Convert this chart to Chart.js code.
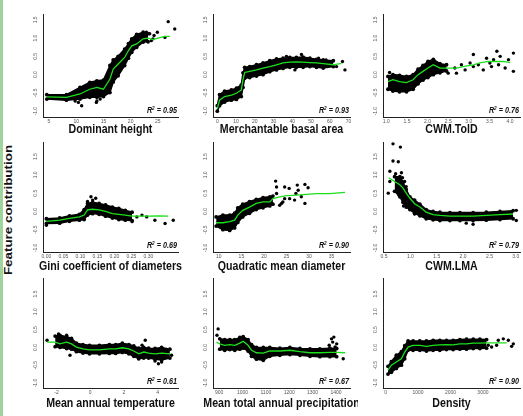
<!DOCTYPE html>
<html>
<head>
<meta charset="utf-8">
<script src="https://cdn.jsdelivr.net/npm/chart.js@4.4.1/dist/chart.umd.min.js"></script>
<style>
  html, body { margin: 0; padding: 0; background: #fff; width: 523px; height: 416px; overflow: hidden; }
  canvas { position: absolute; }
  #edge { position: absolute; left: 0; top: 0; width: 3px; height: 416px; background: #9fd49f; }
  #ylab {
    position: absolute; left: 8px; top: 210px; white-space: nowrap;
    font: bold 13.4px Arial, "Liberation Sans", sans-serif; color: #111;
    transform: translate(-50%, -50%) rotate(-90deg) scaleY(0.85);
  }
</style>
</head>
<body>
<div id="edge"></div>
<div id="ylab">Feature contribution</div>
<script>
// Shared y ticks (feature contribution)
const yTicks = [-1.0, -0.5, 0.0, 0.5, 1.0, 1.5];

// Dominant height
const heightTicks = [5, 10, 15, 20, 25];
const heightX   = [4.6, 8.2, 10.7, 12.5, 13.8, 15.0, 16.2, 16.8, 17.7, 18.9, 19.6, 20.2, 21.1, 22.3, 23.2, 24.1, 25.0, 26.3, 27.2];
const heightMid = [-0.61, -0.62, -0.53, -0.40, -0.35, -0.40, -0.12, 0.15, 0.29, 0.47, 0.66, 0.79, 0.84, 0.98, 1.00, 0.96, 1.00, 1.05, 1.05];
const heightHi  = [-0.55, -0.55, -0.35, -0.21, -0.17, -0.15, 0.25, 0.40, 0.50, 0.70, 0.85, 0.98, 1.10, 1.16, 1.12, null, null, null, null];
const heightLo  = [-0.67, -0.70, -0.67, -0.62, -0.62, -0.60, -0.49, -0.20, -0.03, 0.25, 0.45, 0.61, 0.75, 0.89, 0.90, null, null, null, null];
const heightOut = [[26.9, 1.45], [28.1, 1.25], [13.8, -0.72], [11.0, -0.85], [14.4, -0.67], [13.7, -0.76], [23.5, 1.12], [24.3, 1.07],
                   [24.9, 1.16], [24.1, 0.98], [26.3, 1.02], [22.9, 1.16], [23.8, 0.93], [9.8, -0.72], [10.4, -0.76]];

// Merchantable basal area
const basalTicks = [0, 10, 20, 30, 40, 50, 60, 70];
const basalX   = [0, 1.2, 3.9, 7.5, 10.2, 12.8, 13.7, 14.6, 17.3, 20.9, 24.4, 28.0, 31.6, 35.1, 38.7, 42.2, 45.8, 49.4, 52.9, 56.5, 61.9, 66.3];
const basalMid = [-0.93, -0.70, -0.60, -0.56, -0.51, -0.42, -0.14, 0.06, 0.09, 0.13, 0.18, 0.22, 0.27, 0.32, 0.34, 0.35, 0.34, 0.33, 0.32, 0.30, 0.27, 0.31];
const basalHi  = [-0.85, -0.55, -0.45, -0.42, -0.37, -0.28, 0.05, 0.20, 0.22, 0.27, 0.32, 0.38, 0.43, 0.45, 0.47, 0.47, 0.48, 0.45, 0.42, 0.40, 0.38, null];
const basalLo  = [-1.00, -0.85, -0.75, -0.70, -0.68, -0.60, -0.35, -0.10, -0.08, -0.04, 0.00, 0.08, 0.13, 0.17, 0.20, 0.20, 0.20, 0.22, 0.20, 0.18, 0.22, null];
const basalOut = [[68.1, 0.13], [66.8, 0.36], [41.4, 0.13], [63.6, 0.22], [60.1, 0.32], [44.9, 0.55], [36.9, 0.50], [58.0, 0.40], [54.0, 0.45]];

// CWM.TolD
const toldTicks = [1.0, 1.5, 2.0, 2.5, 3.0, 3.5, 4.0];
const toldX   = [1.04, 1.16, 1.32, 1.49, 1.65, 1.77, 1.89, 2.01, 2.14, 2.30, 2.46, 2.70, 2.95, 3.11, 3.27, 3.47, 3.68, 3.84, 4.00];
const toldMid = [-0.19, -0.14, -0.19, -0.22, -0.14, 0.00, 0.09, 0.18, 0.27, 0.18, 0.18, 0.18, 0.24, 0.27, 0.32, 0.36, 0.36, 0.36, 0.33];
const toldHi  = [-0.05, 0.00, -0.02, -0.05, 0.00, 0.15, 0.25, 0.36, 0.42, 0.30, 0.27, null, null, null, null, null, null, null, null];
const toldLo  = [-0.40, -0.45, -0.47, -0.47, -0.40, -0.25, -0.15, -0.08, 0.00, 0.05, 0.10, null, null, null, null, null, null, null, null];
const toldOut = [[3.11, 0.55], [3.68, 0.64], [4.08, 0.59], [3.88, 0.18], [4.08, 0.09], [2.70, 0.04], [3.35, 0.13], [3.55, 0.22],
                 [3.72, 0.27], [3.03, 0.32], [3.43, 0.45], [2.82, 0.27], [2.34, 0.09], [2.50, 0.04], [3.23, 0.27], [3.96, 0.41],
                 [3.76, 0.50], [3.51, 0.32], [1.08, 0.06], [2.66, 0.18], [2.91, 0.13], [3.60, 0.41], [3.11, 0.22]];

// Gini coefficient of diameters
const giniTicks = [0.00, 0.05, 0.10, 0.15, 0.20, 0.25, 0.30];
const giniX   = [0.000, 0.039, 0.068, 0.097, 0.111, 0.121, 0.136, 0.155, 0.174, 0.194, 0.213, 0.232, 0.252, 0.271, 0.300, 0.329, 0.358];
const giniMid = [-0.27, -0.24, -0.19, -0.15, -0.10, 0.04, 0.06, 0.04, 0.00, -0.06, -0.08, -0.10, -0.13, -0.13, -0.13, -0.12, -0.13];
const giniHi  = [-0.20, -0.18, -0.12, -0.08, 0.05, 0.22, 0.25, 0.22, 0.18, 0.12, 0.08, 0.03, -0.02, null, null, null, null];
const giniLo  = [-0.33, -0.32, -0.27, -0.24, -0.22, -0.10, -0.06, -0.08, -0.13, -0.18, -0.22, -0.24, -0.25, null, null, null, null];
const giniOut = [[0.131, 0.40], [0.136, 0.31], [0.349, -0.33], [0.373, -0.24], [0.319, -0.24], [0.281, -0.10], [0.252, -0.28],
                 [0.266, -0.15], [0.000, -0.38], [0.145, 0.36], [0.121, 0.27], [0.295, -0.15]];

// Quadratic mean diameter
const qmdTicks = [10, 15, 20, 25, 30, 35];
const qmdX   = [9.4, 10.9, 12.4, 13.5, 14.2, 15.3, 16.8, 18.3, 19.8, 21.3, 22.0, 23.5, 25.0, 26.5, 28.7, 31.7, 34.6, 38.0];
const qmdMid = [-0.31, -0.31, -0.28, -0.24, -0.10, 0.03, 0.12, 0.22, 0.26, 0.26, 0.35, 0.40, 0.43, 0.44, 0.46, 0.49, 0.49, 0.52];
const qmdHi  = [-0.15, -0.10, -0.10, -0.05, 0.10, 0.20, 0.27, 0.33, 0.38, 0.40, 0.42, null, null, null, null, null, null, null];
const qmdLo  = [-0.40, -0.50, -0.52, -0.45, -0.30, -0.15, -0.05, 0.05, 0.10, 0.15, 0.20, null, null, null, null, null, null, null];
const qmdOut = [[22.6, 0.83], [22.8, 0.67], [24.6, 0.67], [25.6, 0.63], [27.4, 0.72], [27.6, 0.58], [27.1, 0.49], [29.1, 0.74],
                [29.8, 0.65], [28.3, 0.40], [26.8, 0.31], [24.6, 0.35], [23.5, 0.17], [29.1, 0.22], [25.7, 0.35], [24.2, 0.26],
                [22.8, 0.49], [23.9, 0.22]];

// CWM.LMA
const lmaTicks = [0.5, 1.0, 1.5, 2.0, 2.5, 3.0];
const lmaX   = [0.59, 0.70, 0.80, 0.86, 0.92, 0.99, 1.08, 1.18, 1.30, 1.43, 1.56, 1.75, 1.94, 2.19, 2.44, 2.70, 2.95];
const lmaMid = [0.92, 0.82, 0.73, 0.64, 0.50, 0.36, 0.21, 0.12, -0.02, -0.09, -0.11, -0.13, -0.13, -0.13, -0.11, -0.09, -0.07];
const lmaHi  = [null, 0.95, 0.95, 0.80, 0.60, 0.40, 0.31, 0.20, 0.05, 0.00, -0.02, -0.03, -0.03, -0.03, -0.02, 0.00, 0.02];
const lmaLo  = [null, 0.55, 0.40, 0.25, 0.12, 0.05, -0.05, -0.12, -0.20, -0.23, -0.25, -0.25, -0.25, -0.25, -0.24, -0.22, -0.20];
const lmaOut = [[0.67, 1.85], [0.81, 1.76], [0.67, 1.38], [0.77, 1.36], [0.58, 0.50], [0.61, 1.10], [0.72, 1.03], [0.83, 1.06],
                [0.85, 0.92], [0.89, 0.82], [0.86, 0.54], [0.92, 0.68], [0.78, 0.45], [0.87, 0.15], [0.96, 0.21], [3.01, -0.25],
                [2.19, -0.35], [2.06, -0.32], [3.01, 0.03], [0.61, 0.82], [1.08, -0.07]];

// Mean annual temperature
const matTicks = [-2, 0, 2, 4];
const matX   = [-2.56, -2.08, -1.79, -1.40, -1.11, -0.82, -0.43, -0.04, 0.54, 1.13, 1.51, 1.90, 2.29, 2.58, 2.87, 3.17, 3.46, 3.84, 4.23, 4.72];
const matMid = [0.15, 0.15, 0.10, 0.15, 0.10, 0.01, -0.04, -0.07, -0.07, -0.04, -0.04, -0.01, -0.04, -0.10, -0.18, -0.13, -0.16, -0.18, -0.16, -0.18];
const matHi  = [null, 0.32, 0.34, 0.30, 0.25, 0.12, 0.08, 0.06, 0.06, 0.08, 0.08, 0.12, 0.08, 0.04, -0.02, 0.00, -0.02, -0.03, 0.00, -0.05];
const matLo  = [null, 0.02, 0.00, -0.03, -0.05, -0.12, -0.16, -0.18, -0.18, -0.17, -0.17, -0.14, -0.18, -0.25, -0.32, -0.30, -0.30, -0.33, -0.35, -0.30];
const matOut = [[-2.56, 0.20], [-1.20, -0.22], [3.26, 0.20], [4.04, -0.46], [4.23, -0.41], [3.07, 0.06], [4.82, -0.22],
                [3.84, -0.38], [-1.88, 0.38], [-1.40, 0.34]];

// Mean total annual precipitation
const mapTicks = [900, 1000, 1100, 1200, 1300, 1400];
const mapX   = [889, 903, 924, 946, 967, 989, 1003, 1024, 1039, 1060, 1089, 1117, 1160, 1203, 1246, 1289, 1331, 1374, 1403, 1439];
const mapMid = [0.15, 0.10, 0.06, 0.08, 0.06, 0.12, 0.17, 0.06, -0.08, -0.15, -0.16, -0.10, -0.10, -0.08, -0.12, -0.15, -0.15, -0.14, -0.14, -0.15];
const mapHi  = [null, 0.24, 0.22, 0.22, 0.22, 0.28, 0.30, 0.22, 0.08, 0.00, 0.00, 0.00, -0.02, 0.00, -0.03, -0.04, -0.04, -0.02, -0.03, null];
const mapLo  = [null, -0.05, -0.08, -0.06, -0.08, -0.05, -0.02, -0.10, -0.25, -0.33, -0.36, -0.25, -0.22, -0.20, -0.22, -0.25, -0.26, -0.26, -0.26, null];
const mapOut = [[896, 0.52], [891, 0.34], [1381, 0.24], [1391, 0.29], [1386, 0.15], [1371, 0.06], [1396, 0.01], [1431, -0.32],
                [1017, 0.20], [1010, 0.24], [1403, 0.10]];

// Density
const densTicks = [0, 1000, 2000, 3000];
const densX   = [72, 175, 330, 485, 588, 691, 845, 1052, 1258, 1464, 1670, 1876, 2082, 2289, 2495, 2701, 2907, 3113, 3423, 3732];
const densMid = [-0.64, -0.50, -0.41, -0.32, -0.13, 0.01, 0.06, 0.06, 0.03, 0.06, 0.07, 0.08, 0.07, 0.10, 0.10, 0.12, 0.12, 0.13, 0.13, 0.13];
const densHi  = [-0.53, -0.40, -0.22, -0.12, 0.05, 0.18, 0.18, 0.18, 0.18, 0.20, 0.20, 0.20, 0.20, 0.22, 0.23, 0.23, 0.23, 0.22, null, null];
const densLo  = [-0.75, -0.70, -0.59, -0.50, -0.32, -0.08, -0.08, -0.08, -0.10, -0.08, -0.08, -0.06, -0.06, -0.05, -0.05, -0.03, -0.03, -0.02, null, null];
const densOut = [[3629, 0.24], [3784, 0.20], [3938, 0.10], [3887, 0.03], [3423, 0.06], [3268, 0.01], [3165, 0.06], [3474, 0.20]];

const titles = ['Dominant height', 'Merchantable basal area', 'CWM.TolD',
                'Gini coefficient of diameters', 'Quadratic mean diameter', 'CWM.LMA',
                'Mean annual temperature', 'Mean total annual precipitation', 'Density'];
const r2Values = [0.95, 0.93, 0.76, 0.69, 0.90, 0.79, 0.61, 0.67, 0.90];

// Panel layout: plot-area edges in page pixels
const colLeft = [43, 213, 383], colRight = [178, 350, 520];
const rowTop = [14, 142, 278], rowBottom = [117, 252, 388];
const rowRange = [[-1.16, 1.66], [-1.11, 1.90], [-1.14, 1.95]];
const titleGap = [13, 15, 16];

const panels = [
  { x: heightX, mid: heightMid, hi: heightHi, lo: heightLo, out: heightOut, ticks: heightTicks, xr: [3.9, 28.7], dec: 0 },
  { x: basalX, mid: basalMid, hi: basalHi, lo: basalLo, out: basalOut, ticks: basalTicks, xr: [-2.3, 70.8], dec: 0 },
  { x: toldX, mid: toldMid, hi: toldHi, lo: toldLo, out: toldOut, ticks: toldTicks, xr: [0.92, 4.24], dec: 1 },
  { x: giniX, mid: giniMid, hi: giniHi, lo: giniLo, out: giniOut, ticks: giniTicks, xr: [-0.01, 0.387], dec: 2 },
  { x: qmdX, mid: qmdMid, hi: qmdHi, lo: qmdLo, out: qmdOut, ticks: qmdTicks, xr: [8.7, 39.1], dec: 0 },
  { x: lmaX, mid: lmaMid, hi: lmaHi, lo: lmaLo, out: lmaOut, ticks: lmaTicks, xr: [0.48, 3.08], dec: 1 },
  { x: matX, mid: matMid, hi: matHi, lo: matLo, out: matOut, ticks: matTicks, xr: [-2.8, 5.2], dec: 0 },
  { x: mapX, mid: mapMid, hi: mapHi, lo: mapLo, out: mapOut, ticks: mapTicks, xr: [874, 1460], dec: 0 },
  { x: densX, mid: densMid, hi: densHi, lo: densLo, out: densOut, ticks: densTicks, xr: [-82, 4144], dec: 0 }
];

const FONT = 'Arial, "Liberation Sans", sans-serif';

// Draws the x-axis title under each panel and the R² note in its lower-right corner
const panelText = {
  id: 'panelText',
  afterDraw(chart, args, opts) {
    const { ctx, chartArea: a } = chart;
    ctx.save();
    ctx.fillStyle = '#111';
    ctx.translate((a.left + a.right) / 2, a.bottom + opts.gap);
    ctx.scale(0.85, 1);
    ctx.font = 'bold 12.5px ' + FONT;
    ctx.textAlign = 'center';
    ctx.textBaseline = 'middle';
    ctx.fillText(opts.title, 0, 0);
    ctx.restore();

    ctx.save();
    ctx.fillStyle = '#111';
    const big = 'italic bold 8.5px ' + FONT, small = 'italic bold 5.5px ' + FONT;
    const rest = ' = ' + opts.r2.toFixed(2);
    ctx.font = big;
    const wR = ctx.measureText('R').width, wRest = ctx.measureText(rest).width;
    ctx.font = small;
    const w2 = ctx.measureText('2').width;
    const total = (wR + w2 + wRest) * 0.85;
    ctx.translate(a.right - total - 1, a.bottom - 4);
    ctx.scale(0.85, 1);
    ctx.textAlign = 'left';
    ctx.textBaseline = 'alphabetic';
    ctx.font = big;  ctx.fillText('R', 0, 0);
    ctx.font = small; ctx.fillText('2', wR, -3.5);
    ctx.font = big;  ctx.fillText(rest, wR + w2, 0);
    ctx.restore();
  }
};

const PAD_TOP = 6, PAD_RIGHT = 8, PAD_BOTTOM = 22, Y_W = 18, X_H = 10;
const pts = (xs, ys) => xs.map((x, i) => ({ x: x, y: ys[i] }));

panels.forEach((p, i) => {
  const row = Math.floor(i / 3), col = i % 3;
  const L = colLeft[col], R = colRight[col], T = rowTop[row], B = rowBottom[row];
  const cv = document.createElement('canvas');
  cv.width = R - L + Y_W + PAD_RIGHT;
  cv.height = B - T + PAD_TOP + X_H + PAD_BOTTOM;
  cv.style.left = (L - Y_W) + 'px';
  cv.style.top = (T - PAD_TOP) + 'px';
  document.body.appendChild(cv);

  const edge = { borderColor: '#000', backgroundColor: '#000', borderWidth: 1.5, pointRadius: 1.9,
                 pointBackgroundColor: '#000', pointBorderWidth: 0, tension: 0 };

  new Chart(cv, {
    type: 'line',
    data: {
      datasets: [
        { data: pts(p.x, p.mid), borderColor: '#1be01b', borderWidth: 1.3, pointRadius: 0, fill: false, tension: 0 },
        { data: p.out.map(d => ({ x: d[0], y: d[1] })), showLine: false, pointRadius: 1.7,
          pointBackgroundColor: '#000', pointBorderWidth: 0, fill: false },
        Object.assign({ data: pts(p.x, p.hi), fill: '+1' }, edge),
        Object.assign({ data: pts(p.x, p.lo), fill: false }, edge)
      ]
    },
    plugins: [panelText],
    options: {
      responsive: false,
      animation: false,
      devicePixelRatio: 1,
      layout: { padding: { top: PAD_TOP, right: PAD_RIGHT, bottom: PAD_BOTTOM, left: 0 } },
      plugins: {
        legend: { display: false },
        tooltip: { enabled: false },
        panelText: { title: titles[i], r2: r2Values[i], gap: titleGap[row] }
      },
      scales: {
        x: {
          type: 'linear', min: p.xr[0], max: p.xr[1],
          afterBuildTicks: s => { s.ticks = p.ticks.map(v => ({ value: v })); },
          afterFit: s => { s.height = X_H; },
          grid: { drawOnChartArea: false, drawTicks: false },
          border: { display: true, color: '#222', width: 1 },
          ticks: { font: { size: 5, family: FONT }, color: '#555', padding: 2, maxRotation: 0,
                   callback: v => v.toFixed(p.dec) }
        },
        y: {
          type: 'linear', min: rowRange[row][0], max: rowRange[row][1],
          afterBuildTicks: s => { s.ticks = yTicks.map(v => ({ value: v })); },
          afterFit: s => { s.width = Y_W; },
          grid: { drawOnChartArea: false, drawTicks: false },
          border: { display: true, color: '#222', width: 1 },
          ticks: { font: { size: 5, family: FONT }, color: '#555', padding: 3, minRotation: 90, maxRotation: 90,
                   crossAlign: 'center', callback: v => v.toFixed(1) }
        }
      }
    }
  });
});
</script>
</body>
</html>
